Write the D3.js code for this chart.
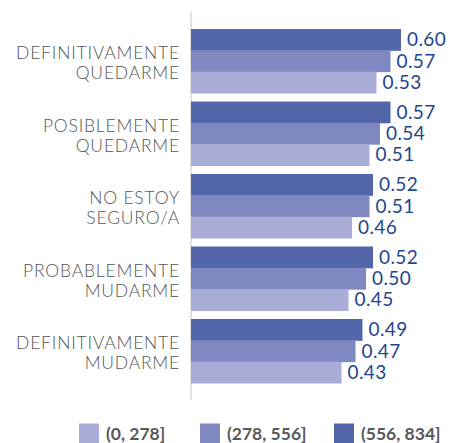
<!DOCTYPE html>
<html><head><meta charset="utf-8">
<script src="https://cdn.jsdelivr.net/npm/d3@7"></script>
<style>html,body{margin:0;padding:0;background:#fff;overflow:hidden}</style>
</head><body><svg id="c" width="452" height="443"></svg>
<script>
const categories = ["DEFINITIVAMENTE|QUEDARME","POSIBLEMENTE|QUEDARME","NO ESTOY|SEGURO/A","PROBABLEMENTE|MUDARME","DEFINITIVAMENTE|MUDARME"];
const seriesNames = ["(556, 834]","(278, 556]","(0, 278]"];
const s556 = [0.60,0.57,0.52,0.52,0.49];
const s278 = [0.57,0.54,0.51,0.50,0.47];
const s0 = [0.53,0.51,0.46,0.45,0.43];
const colors = ["#5366a9","#7f88c1","#a9acd6"];
const legendOrder = ["(0, 278]","(278, 556]","(556, 834]"];

const svg = d3.select("#c");
const series = [s556, s278, s0];
const x = d3.scaleLinear().domain([0,1]).range([191, 191+350]);
const y = d3.scaleBand().domain(categories).range([24.75,387.25]).paddingInner(0.117).paddingOuter(0.0585);
const ys = d3.scaleBand().domain(seriesNames).range([0, y.bandwidth()]);

svg.append("line").attr("x1",191).attr("x2",191).attr("y1",12).attr("y2",400)
  .attr("stroke","#d9d9d9").attr("stroke-width",1.5);

categories.forEach((c,i)=>{
  const g = svg.append("g").attr("transform",`translate(0,${y(c)})`);
  series.forEach((s,j)=>{
    g.append("rect").attr("x",x(0)).attr("y",ys(seriesNames[j])).attr("width",x(s[i])-x(0))
      .attr("height",ys.bandwidth()+0.5).attr("fill",colors[j]);
    g.append("text").attr("x",x(s[i])+6).attr("y",ys(seriesNames[j])+ys.bandwidth()/2)
      .attr("dy","0.35em").attr("font-family","Lato").attr("font-size",19).attr("letter-spacing",0.4)
      .attr("fill","#1f4690").text(s[i].toFixed(2));
  });
  const lines = c.split("|");
  const t = svg.append("text").attr("text-anchor","end").attr("font-family","Lato").attr("font-weight",300)
    .attr("font-size",17.5).attr("letter-spacing",0.8).attr("fill","#555");
  lines.forEach((l,k)=>{
    t.append("tspan").attr("x",180).attr("y",y(c)+y.bandwidth()/2 - 2 + k*20).text(l);
  });
});

const lx = [79,200,334];
legendOrder.forEach((n,i)=>{
  const col = colors[seriesNames.indexOf(n)];
  svg.append("rect").attr("x",lx[i]).attr("y",423.5).attr("width",20).attr("height",20).attr("fill",col);
  svg.append("text").attr("x",lx[i]+27).attr("y",440).attr("font-family","Lato").attr("font-weight",700)
    .attr("font-size",17.5).attr("fill","#595959").text(n);
});
</script></body></html>
